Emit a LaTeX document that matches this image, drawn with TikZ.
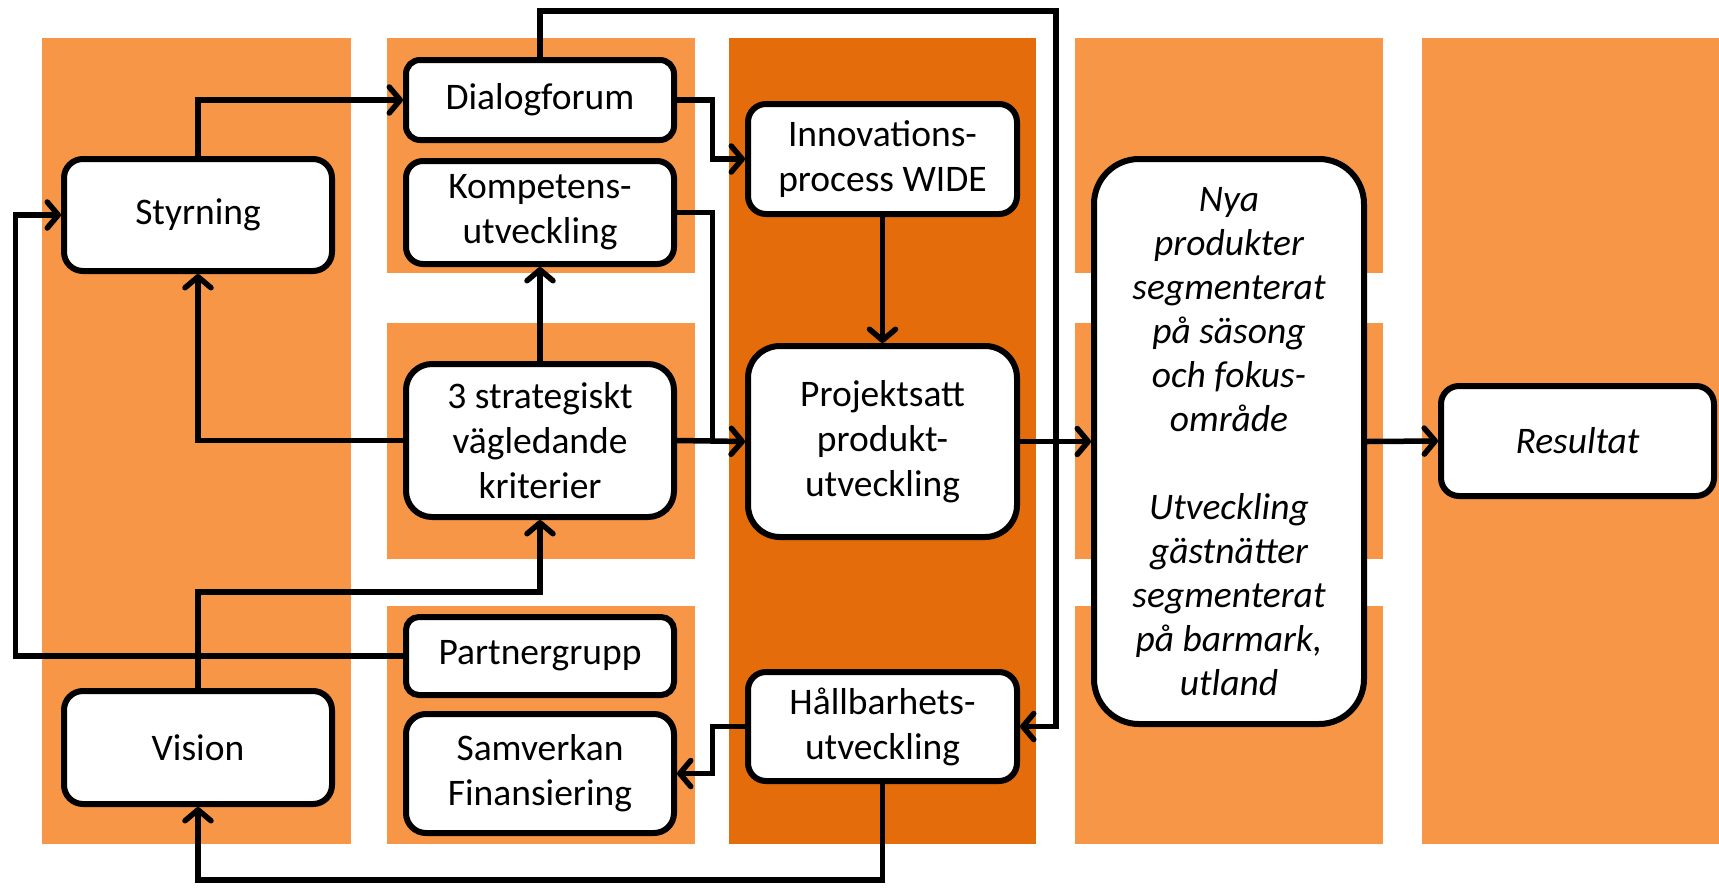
\documentclass[tikz,border=0pt]{standalone}
\usepackage{fontspec}
\setmainfont{Carlito}
\usetikzlibrary{arrows.meta}
\definecolor{lor}{HTML}{F79646}
\definecolor{dor}{HTML}{E46C0A}
\begin{document}
\begin{tikzpicture}[x=1pt,y=-1pt,
  blk/.style={draw=black, fill=white, line width=6pt, rounded corners=#1,
    align=center, inner sep=0pt, font=\fontsize{37.5}{45}\selectfont},
  arr/.style={line width=5.5pt, -{Straight Barb[length=11pt,width=26pt,round]}},
  ln/.style={line width=5.5pt}]
\useasboundingbox (0,0) rectangle (1719,887);
% panels
\fill[lor] (41.7,38.4) rectangle (350.8,844.2);
\fill[lor] (387,38.4) rectangle (695,273);
\fill[lor] (387,323) rectangle (695,559);
\fill[lor] (387,606) rectangle (695,844.2);
\fill[dor] (729,38.4) rectangle (1036,844.2);
\fill[lor] (1075,38.4) rectangle (1383,273);
\fill[lor] (1075,323) rectangle (1383,559);
\fill[lor] (1075,606) rectangle (1383,844.2);
\fill[lor] (1422,38.4) rectangle (1719,844.2);
% nodes
\node[blk=19pt, minimum width=268pt, minimum height=112pt] (sty) at (198,215) {Styrning};
\node[blk=19pt, minimum width=268pt, minimum height=113pt] (vis) at (198,747.5) {Vision};
\node[blk=14pt, minimum width=268pt, minimum height=80pt] (dia) at (540,100) {Dialogforum};
\node[blk=17pt, minimum width=268pt, minimum height=103pt] (kom) at (540,212.5) {Kompetens-\\utveckling};
\node[blk=26pt, minimum width=268pt, minimum height=153pt] (str) at (540,440.5) {3 strategiskt\\vägledande\\kriterier};
\node[blk=13pt, minimum width=268pt, minimum height=78pt] (par) at (540,656) {Partnergrupp};
\node[blk=20pt, minimum width=268pt, minimum height=119pt] (sam) at (540,773.5) {Samverkan\\Finansiering};
\node[blk=18pt, minimum width=269pt, minimum height=110pt] (inn) at (882.5,159) {Innovations-\\process WIDE};
\node[blk=32pt, minimum width=269pt, minimum height=191pt] (pro) at (882.5,441.5) {Projektsatt\\produkt-\\utveckling};
\node[blk=18pt, minimum width=269pt, minimum height=109pt] (hal) at (882.5,726.5) {Hållbarhets-\\utveckling};
\node[blk=45pt, minimum width=270pt, minimum height=565pt, font=\fontsize{37.5}{44}\selectfont\itshape] (nya) at (1229,441.5)
  {Nya\\produkter\\segmenterat\\på säsong\\och fokus-\\område\\[44pt]Utveckling\\gästnätter\\segmenterat\\på barmark,\\utland};
\node[blk=18pt, minimum width=273pt, minimum height=110pt, font=\fontsize{37.5}{45}\selectfont\itshape] (res) at (1577.5,441) {Resultat};
% helper coordinates
\coordinate (bus) at (712.6,0);
\coordinate (lx) at (15.3,0);
\coordinate (tr) at (1056,11);
\coordinate (vy) at (0,592);
\coordinate (by) at (0,880);
% connectors
\draw[arr] (sty.north) |- (dia.west);
\draw[arr] (dia.north) |- (tr) |- (hal.east);
\draw[arr] (dia.east) -- (dia.east -| bus) |- (inn.west);
\draw[ln] (kom.east) -- (kom.east -| bus) -- (bus |- pro.west);
\draw[arr] (str.east) -- (pro.west);
\draw[arr] (inn.south) -- (pro.north);
\draw[arr] (str.north) -- (kom.south);
\draw[arr] (str.west) -| (sty.south);
\draw[arr] (par.west) -- (par.west -| lx) |- (sty.west);
\draw[arr] (vis.north) -- (vis.north |- vy) -| (str.south);
\draw[arr] (hal.west) -- (hal.west -| bus) |- (sam.east);
\draw[arr] (hal.south) -- (hal.south |- by) -| (vis.south);
\draw[arr] (pro.east) -- (nya.west);
\draw[arr] (nya.east) -- (res.west);
\end{tikzpicture}
\end{document}
